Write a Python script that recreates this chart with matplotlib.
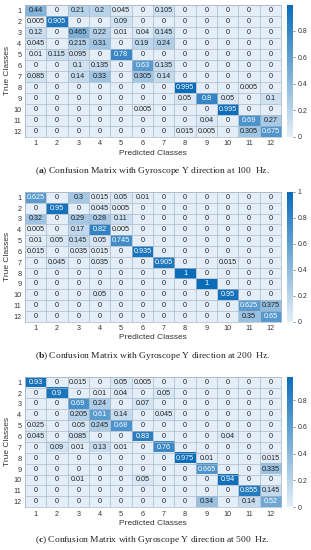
import numpy as np
import matplotlib
matplotlib.use('Agg')
import matplotlib.pyplot as plt
from matplotlib.colors import LinearSegmentedColormap

plt.rcParams['font.family'] = ['Liberation Sans', 'DejaVu Sans']
plt.rcParams['mathtext.fontset'] = 'custom'
plt.rcParams['mathtext.rm'] = 'Liberation Serif'
plt.rcParams['mathtext.bf'] = 'Liberation Serif:bold'

classes = [str(i) for i in range(1, 13)]

cm_100 = [
    [0.44, 0, 0.21, 0.2, 0.045, 0, 0.105, 0, 0, 0, 0, 0],
    [0.005, 0.905, 0, 0, 0.09, 0, 0, 0, 0, 0, 0, 0],
    [0.12, 0, 0.465, 0.22, 0.01, 0.04, 0.145, 0, 0, 0, 0, 0],
    [0.045, 0, 0.215, 0.31, 0, 0.19, 0.24, 0, 0, 0, 0, 0],
    [0.01, 0.115, 0.095, 0, 0.78, 0, 0, 0, 0, 0, 0, 0],
    [0, 0, 0.1, 0.135, 0, 0.63, 0.135, 0, 0, 0, 0, 0],
    [0.085, 0, 0.14, 0.33, 0, 0.305, 0.14, 0, 0, 0, 0, 0],
    [0, 0, 0, 0, 0, 0, 0, 0.995, 0, 0, 0.005, 0],
    [0, 0, 0, 0, 0, 0, 0, 0.05, 0.8, 0.05, 0, 0.1],
    [0, 0, 0, 0, 0, 0.005, 0, 0, 0, 0.995, 0, 0],
    [0, 0, 0, 0, 0, 0, 0, 0, 0.04, 0, 0.69, 0.27],
    [0, 0, 0, 0, 0, 0, 0, 0.015, 0.005, 0, 0.305, 0.675],
]

cm_200 = [
    [0.625, 0, 0.3, 0.015, 0.05, 0.01, 0, 0, 0, 0, 0, 0],
    [0, 0.95, 0, 0.045, 0.005, 0, 0, 0, 0, 0, 0, 0],
    [0.32, 0, 0.29, 0.28, 0.11, 0, 0, 0, 0, 0, 0, 0],
    [0.005, 0, 0.17, 0.82, 0.005, 0, 0, 0, 0, 0, 0, 0],
    [0.01, 0.05, 0.145, 0.05, 0.745, 0, 0, 0, 0, 0, 0, 0],
    [0.015, 0, 0.035, 0.015, 0, 0.935, 0, 0, 0, 0, 0, 0],
    [0, 0.045, 0, 0.035, 0, 0, 0.905, 0, 0, 0.015, 0, 0],
    [0, 0, 0, 0, 0, 0, 0, 1, 0, 0, 0, 0],
    [0, 0, 0, 0, 0, 0, 0, 0, 1, 0, 0, 0],
    [0, 0, 0, 0.05, 0, 0, 0, 0, 0, 0.95, 0, 0],
    [0, 0, 0, 0, 0, 0, 0, 0, 0, 0, 0.625, 0.375],
    [0, 0, 0, 0, 0, 0, 0, 0, 0, 0, 0.35, 0.65],
]

cm_500 = [
    [0.93, 0, 0.015, 0, 0.05, 0.005, 0, 0, 0, 0, 0, 0],
    [0, 0.9, 0, 0.01, 0.04, 0, 0.05, 0, 0, 0, 0, 0],
    [0, 0, 0.69, 0.24, 0, 0.07, 0, 0, 0, 0, 0, 0],
    [0, 0, 0.205, 0.61, 0.14, 0, 0.045, 0, 0, 0, 0, 0],
    [0.025, 0, 0.05, 0.245, 0.68, 0, 0, 0, 0, 0, 0, 0],
    [0.045, 0, 0.085, 0, 0, 0.83, 0, 0, 0, 0.04, 0, 0],
    [0, 0.09, 0.01, 0.13, 0.01, 0, 0.76, 0, 0, 0, 0, 0],
    [0, 0, 0, 0, 0, 0, 0, 0.975, 0.01, 0, 0, 0.015],
    [0, 0, 0, 0, 0, 0, 0, 0, 0.665, 0, 0, 0.335],
    [0, 0, 0.01, 0, 0, 0.05, 0, 0, 0, 0.94, 0, 0],
    [0, 0, 0, 0, 0, 0, 0, 0, 0, 0, 0.855, 0.145],
    [0, 0, 0, 0, 0, 0, 0, 0, 0.34, 0, 0.14, 0.52],
]

captions = [
    (r'($\mathbf{a}$) Confusion Matrix with Gyroscope Y direction at 100  Hz.'),
    (r'($\mathbf{b}$) Confusion Matrix with Gyroscope Y direction at 200  Hz.'),
    (r'($\mathbf{c}$) Confusion Matrix with Gyroscope Y direction at 500  Hz.'),
]

cmap = LinearSegmentedColormap.from_list('mblue', ['#e4eef8', '#0b6cb8'])


def draw_cm(fig, data, rect, cbar_rect, caption, cap_y):
    data = np.array(data)
    ax = fig.add_axes(rect)
    n = data.shape[0]
    im = ax.imshow(data, cmap=cmap, vmin=0, vmax=data.max(), aspect='auto')
    for i in range(n):
        for j in range(n):
            v = data[i, j]
            col = 'white' if v > 0.5 else '#222222'
            ax.text(j, i, f'{v:g}', ha='center', va='center', fontsize=5.2, color=col)
    ax.set_xticks(np.arange(n))
    ax.set_yticks(np.arange(n))
    ax.set_xticklabels(classes)
    ax.set_yticklabels(classes)
    ax.set_xticks(np.arange(n + 1) - 0.5, minor=True)
    ax.set_yticks(np.arange(n + 1) - 0.5, minor=True)
    ax.grid(which='minor', color='#aab8c8', linewidth=0.5)
    ax.tick_params(which='both', length=0, labelsize=5.2, colors='#333333', pad=2.5)
    for s in ax.spines.values():
        s.set_color('#aab8c8')
        s.set_linewidth(0.5)
    ax.set_xlabel('Predicted Classes', fontsize=6, color='#333333', labelpad=1.5)
    ax.set_ylabel('True Classes', fontsize=6, color='#333333', labelpad=2)

    cax = fig.add_axes(cbar_rect)
    cb = fig.colorbar(im, cax=cax)
    cb.outline.set_visible(False)
    if data.max() >= 1:
        cb.set_ticks([0, 0.2, 0.4, 0.6, 0.8, 1])
        cb.set_ticklabels(['0', '0.2', '0.4', '0.6', '0.8', '1'])
    else:
        cb.set_ticks([0, 0.2, 0.4, 0.6, 0.8])
        cb.set_ticklabels(['0', '0.2', '0.4', '0.6', '0.8'])
    cax.tick_params(length=1.5, width=0.4, labelsize=5, colors='#333333', pad=2)

    fig.text(0.49, cap_y, caption, ha='center', va='center', fontsize=6.8,
             family='Liberation Serif', color='#222222')


fig = plt.figure(figsize=(3.11, 5.5), dpi=100)

draw_cm(fig, cm_100, [0.080, 0.751, 0.824, 0.240], [0.923, 0.751, 0.019, 0.240],
        captions[0], 1 - 171 / 550)
draw_cm(fig, cm_200, [0.080, 0.415, 0.824, 0.236], [0.923, 0.415, 0.019, 0.236],
        captions[1], 1 - 356 / 550)
draw_cm(fig, cm_500, [0.080, 0.078, 0.824, 0.237], [0.923, 0.078, 0.019, 0.237],
        captions[2], 1 - 540 / 550)

fig.savefig('out.png', dpi=100)
